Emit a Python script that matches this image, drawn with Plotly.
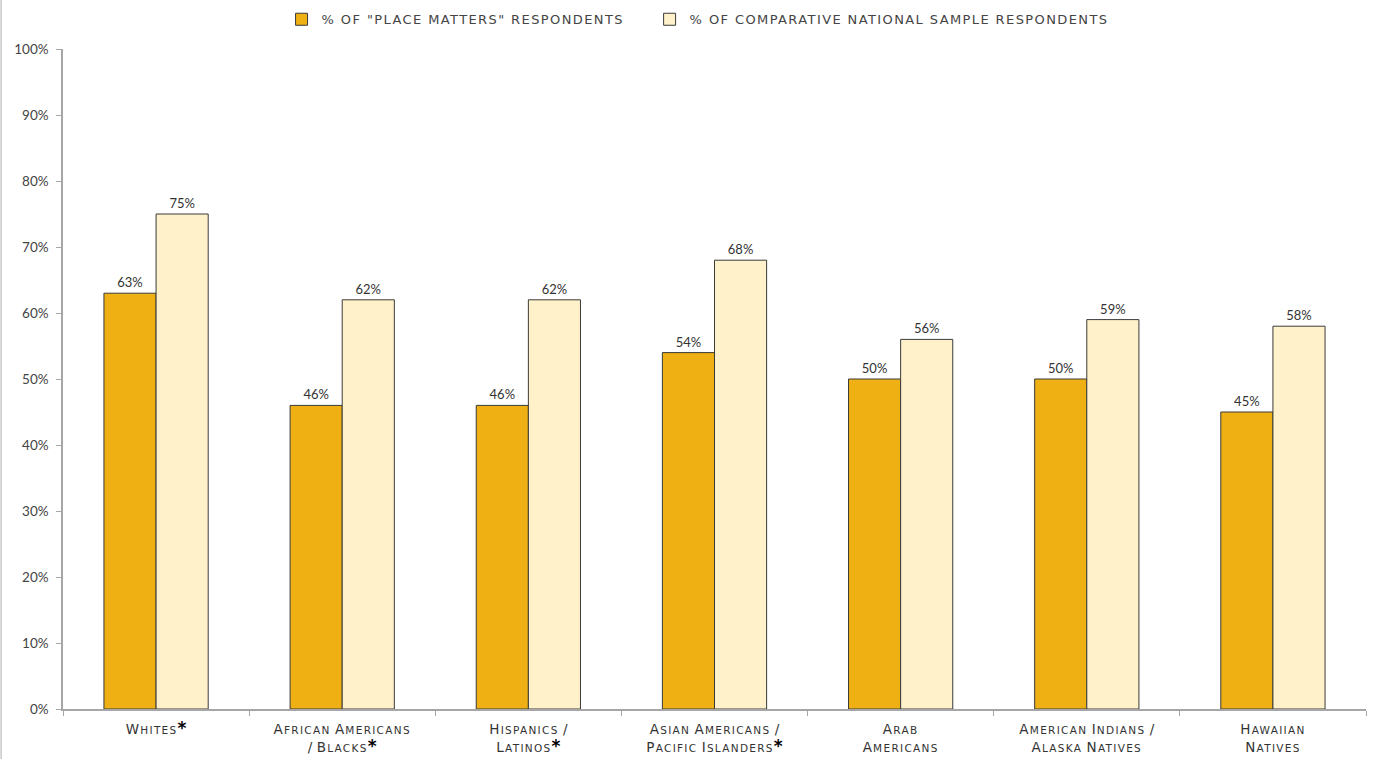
import plotly.graph_objects as go

categories = ["Whites*", "African Americans|/ Blacks*", "Hispanics /|Latinos*",
              "Asian Americans /|Pacific Islanders*", "Arab|Americans",
              "American Indians /|Alaska Natives", "Hawaiian|Natives"]
place_matters = [63, 46, 46, 54, 50, 50, 45]
national_sample = [75, 62, 62, 68, 56, 59, 58]
series_names = ['% OF "PLACE MATTERS" RESPONDENTS', '% OF COMPARATIVE NATIONAL SAMPLE RESPONDENTS']
y_ticks = list(range(0, 101, 10))


def small_caps(label):
    lines = []
    for line in label.split("|"):
        words = []
        for w in line.split(" "):
            star = ""
            if w.endswith("*"):
                w = w[:-1]
                star = "<span style='font-size:17px;font-weight:bold;fill:#000'>*</span>"
            if w and w[0].isalpha():
                words.append("<span style='letter-spacing:1.2px'>" + w[0].upper() + "</span>"
                             + "<span style='font-size:10.5px;letter-spacing:1.3px'>" + w[1:].upper() + "</span>" + star)
            else:
                words.append(w + star)
        lines.append(" ".join(words))
    return "<br>".join(lines)


def spaced(name, pad=0):
    return "<span style='letter-spacing:1.4px'>" + name + "</span>" + "&nbsp;" * pad


ticktext = [small_caps(c) for c in categories]

fig = go.Figure()
fig.add_trace(go.Bar(
    x=categories, y=place_matters, name=spaced(series_names[0], 5),
    marker=dict(color="#EEB012", line=dict(color="#3a3a3a", width=1)),
    text=[f"{v}%" for v in place_matters], textposition="outside",
    textfont=dict(size=13, color="#333333"), cliponaxis=False,
))
fig.add_trace(go.Bar(
    x=categories, y=national_sample, name=spaced(series_names[1]),
    marker=dict(color="#FFF1C9", line=dict(color="#3a3a3a", width=1)),
    text=[f"{v}%" for v in national_sample], textposition="outside",
    textfont=dict(size=13, color="#333333"), cliponaxis=False,
))

fig.update_layout(
    width=1376, height=759,
    margin=dict(l=63, r=10, t=49, b=50, autoexpand=False),
    paper_bgcolor="white", plot_bgcolor="white",
    font=dict(family="Lato, DejaVu Sans, sans-serif", size=12, color="#333333"),
    barmode="group", bargap=0.44, bargroupgap=0,
    showlegend=True,
    legend=dict(orientation="h", x=0.487, xanchor="center", y=1.045, yanchor="middle",
                font=dict(family="DejaVu Sans, sans-serif", size=13, color="#444444"),
                itemwidth=30, bgcolor="rgba(0,0,0,0)"),
    xaxis=dict(
        tickmode="array", tickvals=categories, ticktext=ticktext,
        showline=True, linecolor="#a6a6a6", linewidth=1.5,
        ticks="outside", tickson="boundaries", ticklen=5, tickcolor="#a6a6a6",
        tickfont=dict(family="DejaVu Sans, sans-serif", size=13.5, color="#333333"),
        showgrid=False, ticklabelstandoff=7,
    ),
    yaxis=dict(
        range=[0, 100], tickvals=y_ticks, ticktext=[f"{t}%" for t in y_ticks],
        showline=True, linecolor="#a6a6a6", linewidth=1.5,
        ticks="outside", ticklen=5, tickcolor="#a6a6a6",
        tickfont=dict(size=13.5, color="#444444"), showgrid=False, zeroline=False,
        ticklabelstandoff=5,
    ),
)

fig.add_shape(type="line", xref="paper", yref="paper", x0=-0.0475, x1=-0.0475, y0=-0.08, y1=1.08,
              line=dict(color="#c8c8c8", width=1.5))

fig.write_html("out.html")
